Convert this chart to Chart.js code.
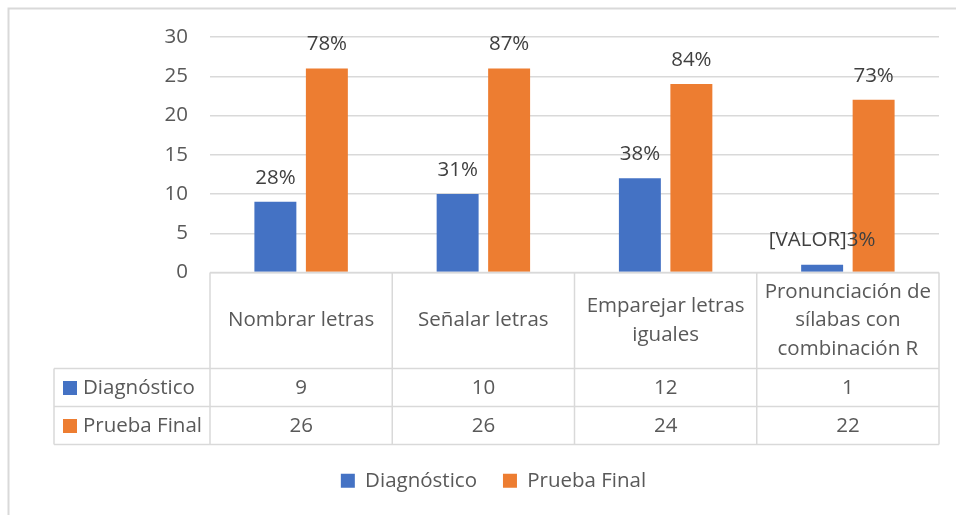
<!DOCTYPE html>
<html>
<head>
<meta charset="utf-8">
<script src="https://cdn.jsdelivr.net/npm/chart.js@4.4.1/dist/chart.umd.min.js"></script>
<style>
  html, body { margin: 0; padding: 0; background: #ffffff; }
  #wrap { width: 956px; height: 515px; position: relative; }
</style>
</head>
<body>
<div id="wrap"><canvas id="c"></canvas></div>
<script>
// ---- data ----
const categories = [
  ["Nombrar letras"],
  ["Señalar letras"],
  ["Emparejar letras", "iguales"],
  ["Pronunciación de", "sílabas con", "combinación R"]
];
const seriesNames = ["Diagnóstico", "Prueba Final"];
const diagnostico = [9, 10, 12, 1];
const pruebaFinal = [26, 26, 24, 22];
const diagnosticoLabels = ["28%", "31%", "38%", "[VALOR]3%"];
const pruebaFinalLabels = ["78%", "87%", "84%", "73%"];
const yTicks = [0, 5, 10, 15, 20, 25, 30];

const BLUE = "#4472C4";
const ORANGE = "#ED7D31";
const GRID = "#D9D9D9";
const TEXT = "#595959";
const FONT = "'Open Sans', 'Noto Sans', sans-serif";
const FS = 20.5;

const pointLabels = [diagnosticoLabels, pruebaFinalLabels];
const seriesValues = [diagnostico, pruebaFinal];
const seriesColors = [BLUE, ORANGE];

const tablePlugin = {
  id: 'tablePlugin',
  beforeDraw(chart) {
    const ctx = chart.ctx;
    ctx.save();
    ctx.strokeStyle = GRID;
    ctx.lineWidth = 2;
    ctx.beginPath();
    ctx.moveTo(8.5, 515); ctx.lineTo(8.5, 8.5); ctx.lineTo(956, 8.5);
    ctx.stroke();
    ctx.restore();
  },
  afterDatasetsDraw(chart) {
    const ctx = chart.ctx;
    ctx.save();
    ctx.font = FS + "px " + FONT;
    ctx.fillStyle = "#404040";
    ctx.textAlign = "center";
    ctx.textBaseline = "middle";
    chart.data.datasets.forEach((ds, di) => {
      const meta = chart.getDatasetMeta(di);
      meta.data.forEach((el, i) => {
        ctx.fillText(pointLabels[di][i], el.x, el.y - 24);
      });
    });
    ctx.restore();
  },
  afterDraw(chart) {
    const ctx = chart.ctx;
    const xs = chart.scales.x;
    const area = chart.chartArea;
    const n = categories.length;
    const colW = (area.right - area.left) / n;
    const top = area.bottom;
    const rowH = 38;
    const bottom = xs.bottom;
    const headerBottom = bottom - rowH * seriesNames.length;
    const tableLeft = 54;

    ctx.save();
    ctx.strokeStyle = GRID;
    ctx.lineWidth = 1.5;
    ctx.beginPath();
    ctx.moveTo(area.left, top); ctx.lineTo(area.right, top);
    for (let r = 0; r <= seriesNames.length; r++) {
      const y = headerBottom + r * rowH;
      ctx.moveTo(tableLeft, y); ctx.lineTo(area.right, y);
    }
    for (let c = 0; c <= n; c++) {
      const x = area.left + c * colW;
      ctx.moveTo(x, top); ctx.lineTo(x, bottom);
    }
    ctx.moveTo(tableLeft, headerBottom); ctx.lineTo(tableLeft, bottom);
    ctx.stroke();

    ctx.font = FS + "px " + FONT;
    ctx.fillStyle = TEXT;
    ctx.textAlign = "center";
    ctx.textBaseline = "middle";
    const lh = 28.5;
    const hc = (top + headerBottom) / 2;
    categories.forEach((lines, i) => {
      const cx = xs.getPixelForValue(i);
      const y0 = hc - (lines.length - 1) * lh / 2;
      lines.forEach((t, k) => ctx.fillText(t, cx, y0 + k * lh));
    });

    seriesNames.forEach((name, r) => {
      const cy = headerBottom + r * rowH + rowH / 2;
      ctx.fillStyle = seriesColors[r];
      ctx.fillRect(63, cy - 6.5, 14, 14);
      ctx.fillStyle = TEXT;
      ctx.textAlign = "left";
      ctx.fillText(name, 83, cy + 1);
      ctx.textAlign = "center";
      seriesValues[r].forEach((v, i) => {
        ctx.fillText(String(v), xs.getPixelForValue(i), cy + 1);
      });
    });
    ctx.restore();
  }
};

new Chart(document.getElementById('c'), {
  type: 'bar',
  data: {
    labels: categories,
    datasets: [
      { label: seriesNames[0], data: diagnostico, backgroundColor: BLUE,
        categoryPercentage: 0.565, barPercentage: 0.815 },
      { label: seriesNames[1], data: pruebaFinal, backgroundColor: ORANGE,
        categoryPercentage: 0.565, barPercentage: 0.815 }
    ]
  },
  options: {
    responsive: true,
    maintainAspectRatio: false,
    animation: false,
    layout: { padding: { left: 48, right: 17, top: 37, bottom: 14 } },
    plugins: {
      tooltip: { enabled: false },
      legend: {
        position: 'bottom',
        labels: {
          font: { family: FONT, size: FS },
          color: TEXT,
          boxWidth: 14,
          boxHeight: 14,
          padding: 26
        }
      }
    },
    scales: {
      x: {
        grid: { display: false },
        border: { display: false },
        ticks: { display: false },
        afterFit(scale) { scale.height = 172; }
      },
      y: {
        min: 0, max: 30,
        afterBuildTicks(scale) { scale.ticks = yTicks.map(v => ({ value: v })); },
        grid: { color: GRID, lineWidth: 1.5, drawTicks: false },
        border: { display: false },
        ticks: { font: { family: FONT, size: FS }, color: TEXT, padding: 22 },
        afterFit(scale) { scale.width = 162; }
      }
    }
  },
  plugins: [tablePlugin]
});
</script>
</body>
</html>
